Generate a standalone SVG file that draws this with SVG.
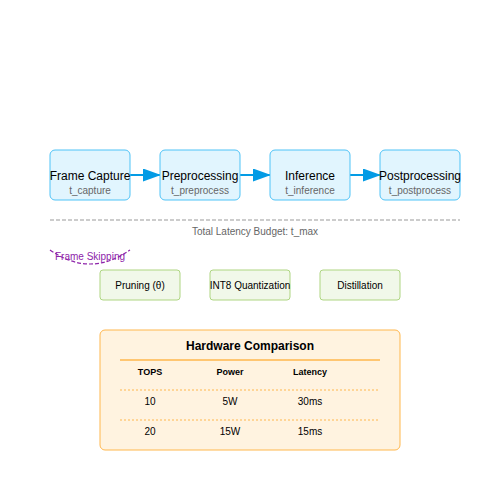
<svg xmlns="http://www.w3.org/2000/svg" width="500" height="500" viewBox="0 0 500 500">
<defs>
<marker id="arr" markerWidth="18" markerHeight="13" refX="17" refY="6.5" orient="auto" markerUnits="userSpaceOnUse">
<path d="M0,0 L18,6.5 L0,13 Z" fill="#039be5"/>
</marker>
<style>
.stage{fill:#e1f5fe;stroke:#4fc3f7;stroke-width:1}
.opt{fill:#f1f8e9;stroke:#aed581;stroke-width:1}
.t{font-family:"Liberation Sans",Arial,sans-serif;text-anchor:middle}
.name{font-size:12px;fill:#000}
.sub{font-size:10px;fill:#666}
.small{font-size:10px;fill:#000}
.hdr{font-size:9px;font-weight:bold;fill:#000}
.cell{font-size:10px;fill:#000}
.conn{stroke:#039be5;stroke-width:2;fill:none}
</style>
</defs>
<rect width="500" height="500" fill="#fff"/>
<g id="connectors">
<line class="conn" x1="130" y1="175" x2="160" y2="175" marker-end="url(#arr)"/>
<line class="conn" x1="240" y1="175" x2="270" y2="175" marker-end="url(#arr)"/>
<line class="conn" x1="350" y1="175" x2="380" y2="175" marker-end="url(#arr)"/>
</g>
<g id="frame-capture">
<rect class="stage" x="50" y="150" width="80" height="50" rx="5"/>
<text class="t name" x="90" y="180">Frame Capture</text>
<text class="t sub" x="90" y="194">t_capture</text>
</g>
<g id="preprocessing">
<rect class="stage" x="160" y="150" width="80" height="50" rx="5"/>
<text class="t name" x="200" y="180">Preprocessing</text>
<text class="t sub" x="200" y="194">t_preprocess</text>
</g>
<g id="inference">
<rect class="stage" x="270" y="150" width="80" height="50" rx="5"/>
<text class="t name" x="310" y="180">Inference</text>
<text class="t sub" x="310" y="194">t_inference</text>
</g>
<g id="postprocessing">
<rect class="stage" x="380" y="150" width="80" height="50" rx="5"/>
<text class="t name" x="420" y="180">Postprocessing</text>
<text class="t sub" x="420" y="194">t_postprocess</text>
</g>
<g id="budget">
<line x1="50" y1="220" x2="460" y2="220" stroke="#999" stroke-width="1" stroke-dasharray="4,2"/>
<text class="t sub" x="255" y="235">Total Latency Budget: t_max</text>
</g>
<g id="frame-skipping">
<path d="M50,250 Q90,278 130,250" fill="none" stroke="#8e24aa" stroke-width="1.2" stroke-dasharray="4,2"/>
<text class="t" x="90" y="260" font-size="10" fill="#8e24aa">Frame Skipping</text>
</g>
<g id="pruning">
<rect class="opt" x="100" y="270" width="80" height="30" rx="3"/>
<text class="t small" x="140" y="289">Pruning (θ)</text>
</g>
<g id="quantization">
<rect class="opt" x="210" y="270" width="80" height="30" rx="3"/>
<text class="t small" x="250" y="289">INT8 Quantization</text>
</g>
<g id="distillation">
<rect class="opt" x="320" y="270" width="80" height="30" rx="3"/>
<text class="t small" x="360" y="289">Distillation</text>
</g>
<g id="hardware">
<rect x="100" y="330" width="300" height="120" rx="5" fill="#fff3e0" stroke="#ffb74d" stroke-width="1"/>
<text class="t" x="250" y="350" font-size="12" font-weight="bold" fill="#000">Hardware Comparison</text>
<line x1="120" y1="360" x2="380" y2="360" stroke="#ffb74d" stroke-width="1.5"/>
<text class="t hdr" x="150" y="375">TOPS</text>
<text class="t hdr" x="230" y="375">Power</text>
<text class="t hdr" x="310" y="375">Latency</text>
<line x1="120" y1="390" x2="380" y2="390" stroke="#ffb74d" stroke-width="1" stroke-dasharray="2,2"/>
<text class="t cell" x="150" y="405">10</text>
<text class="t cell" x="230" y="405">5W</text>
<text class="t cell" x="310" y="405">30ms</text>
<line x1="120" y1="420" x2="380" y2="420" stroke="#ffb74d" stroke-width="1" stroke-dasharray="2,2"/>
<text class="t cell" x="150" y="435">20</text>
<text class="t cell" x="230" y="435">15W</text>
<text class="t cell" x="310" y="435">15ms</text>
</g>
</svg>
